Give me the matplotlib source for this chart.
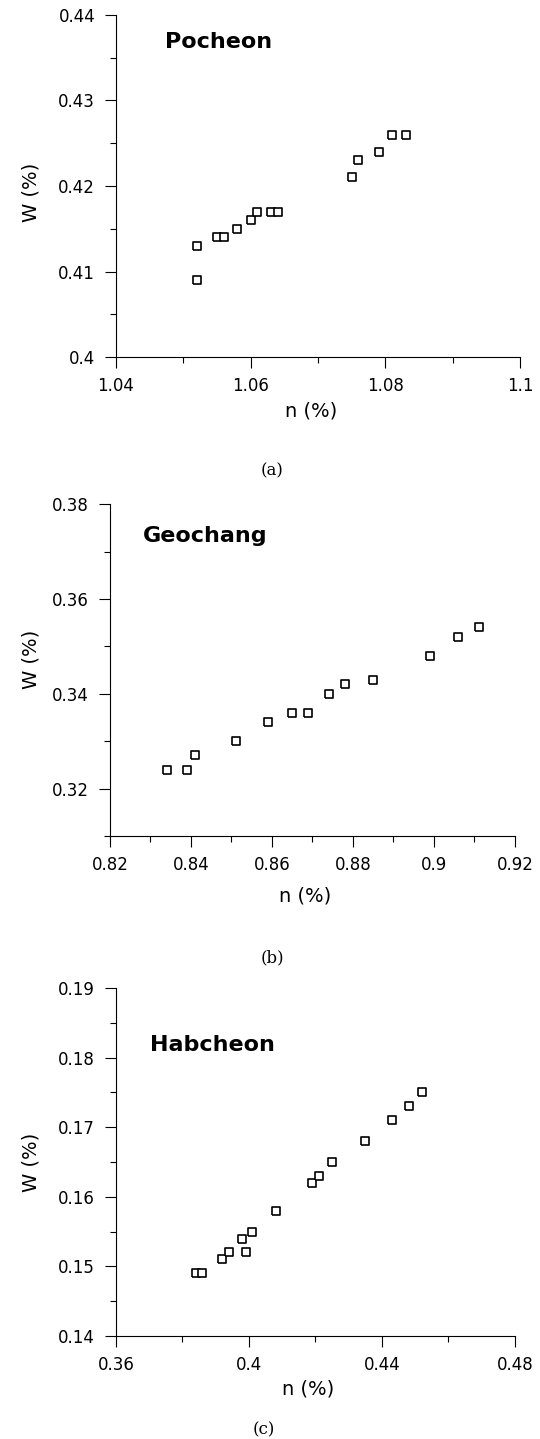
import numpy as np
import matplotlib
matplotlib.use("Agg")
import matplotlib.pyplot as plt
from matplotlib.ticker import MultipleLocator, FuncFormatter

# data
n_poc = [1.052, 1.052, 1.055, 1.056, 1.058, 1.060, 1.061, 1.063, 1.064,
         1.075, 1.076, 1.079, 1.081, 1.083]
w_poc = [0.413, 0.409, 0.414, 0.414, 0.415, 0.416, 0.417, 0.417, 0.417,
         0.421, 0.423, 0.424, 0.426, 0.426]

n_geo = [0.834, 0.839, 0.841, 0.851, 0.859, 0.865, 0.869, 0.874, 0.878,
         0.885, 0.899, 0.906, 0.911]
w_geo = [0.324, 0.324, 0.327, 0.330, 0.334, 0.336, 0.336, 0.340, 0.342,
         0.343, 0.348, 0.352, 0.354]

n_hab = [0.384, 0.386, 0.392, 0.394, 0.399, 0.398, 0.401, 0.408, 0.419,
         0.421, 0.425, 0.435, 0.443, 0.448, 0.452]
w_hab = [0.149, 0.149, 0.151, 0.152, 0.152, 0.154, 0.155, 0.158, 0.162,
         0.163, 0.165, 0.168, 0.171, 0.173, 0.175]

names = ["Pocheon", "Geochang", "Habcheon"]
tags = ["(a)", "(b)", "(c)"]

plt.rcParams['font.family'] = ['DejaVu Sans']

fig = plt.figure(figsize=(5.4, 14.39), dpi=100)

# axes boxes in figure fraction
rects = [[0.2148, 0.7519, 0.7481, 0.2377],
         [0.2037, 0.4190, 0.7500, 0.2307],
         [0.2148, 0.0716, 0.7389, 0.2418]]
xlims = [(1.04, 1.1), (0.82, 0.92), (0.36, 0.48)]
ylims = [(0.40, 0.44), (0.31, 0.38), (0.14, 0.19)]
xmaj = [0.02, 0.02, 0.04]
xmin = [0.01, 0.01, 0.02]
ymaj = [0.01, 0.02, 0.01]
ymin = [0.005, 0.01, 0.005]
title_pos = [(0.121, 0.95), (0.081, 0.934), (0.085, 0.865)]
xlab_pos = [(0.483, -0.157), (0.483, -0.181), (0.481, -0.152)]
ylab_pos = [(-0.210, 0.482), (-0.195, 0.533), (-0.214, 0.50)]
tag_y = [1 - 471 / 1439, 1 - 958 / 1439, 1 - 1430 / 1439]
tag_x = [272 / 540, 272 / 540, 264 / 540]

# slightly wide open square like in the scan
box = [(-1.15, -1), (1.15, -1), (1.15, 1), (-1.15, 1), (-1.15, -1)]

xs = [n_poc, n_geo, n_hab]
ys = [w_poc, w_geo, w_hab]

fmt = FuncFormatter(lambda v, p: "%g" % round(v, 4))

for i in range(3):
    ax = fig.add_axes(rects[i])
    ax.plot(xs[i], ys[i], linestyle='none', marker=box, markersize=6.0,
            markerfacecolor='white', markeredgecolor='black', markeredgewidth=1.2)
    ax.set_xlim(*xlims[i])
    ax.set_ylim(*ylims[i])
    ax.spines['top'].set_visible(False)
    ax.spines['right'].set_visible(False)
    for s in ['left', 'bottom']:
        ax.spines[s].set_linewidth(0.8)
    ax.xaxis.set_major_locator(MultipleLocator(xmaj[i]))
    ax.xaxis.set_minor_locator(MultipleLocator(xmin[i]))
    ax.yaxis.set_major_locator(MultipleLocator(ymaj[i]))
    ax.yaxis.set_minor_locator(MultipleLocator(ymin[i]))
    ax.xaxis.set_major_formatter(fmt)
    ax.yaxis.set_major_formatter(fmt)
    if i == 1:
        ax.set_yticks([0.32, 0.34, 0.36, 0.38])
    ax.tick_params(which='major', direction='out', length=8, width=0.8, labelsize=12)
    ax.tick_params(which='minor', direction='out', length=4.5, width=0.8)
    ax.tick_params(axis='x', which='major', pad=6.5)
    ax.tick_params(axis='y', which='major', pad=7)

    ax.set_xlabel("n (%)", fontsize=14, va='center')
    ax.xaxis.set_label_coords(*xlab_pos[i])
    ax.set_ylabel("W (%)", fontsize=14, va='center')
    ax.yaxis.set_label_coords(*ylab_pos[i])

    ax.text(title_pos[i][0], title_pos[i][1], names[i], transform=ax.transAxes,
            ha='left', va='top', fontsize=16, fontweight='bold')

    fig.text(tag_x[i], tag_y[i], tags[i], ha='center', va='center',
             fontsize=12, family='DejaVu Serif')

fig.savefig("out.png", dpi=100)
